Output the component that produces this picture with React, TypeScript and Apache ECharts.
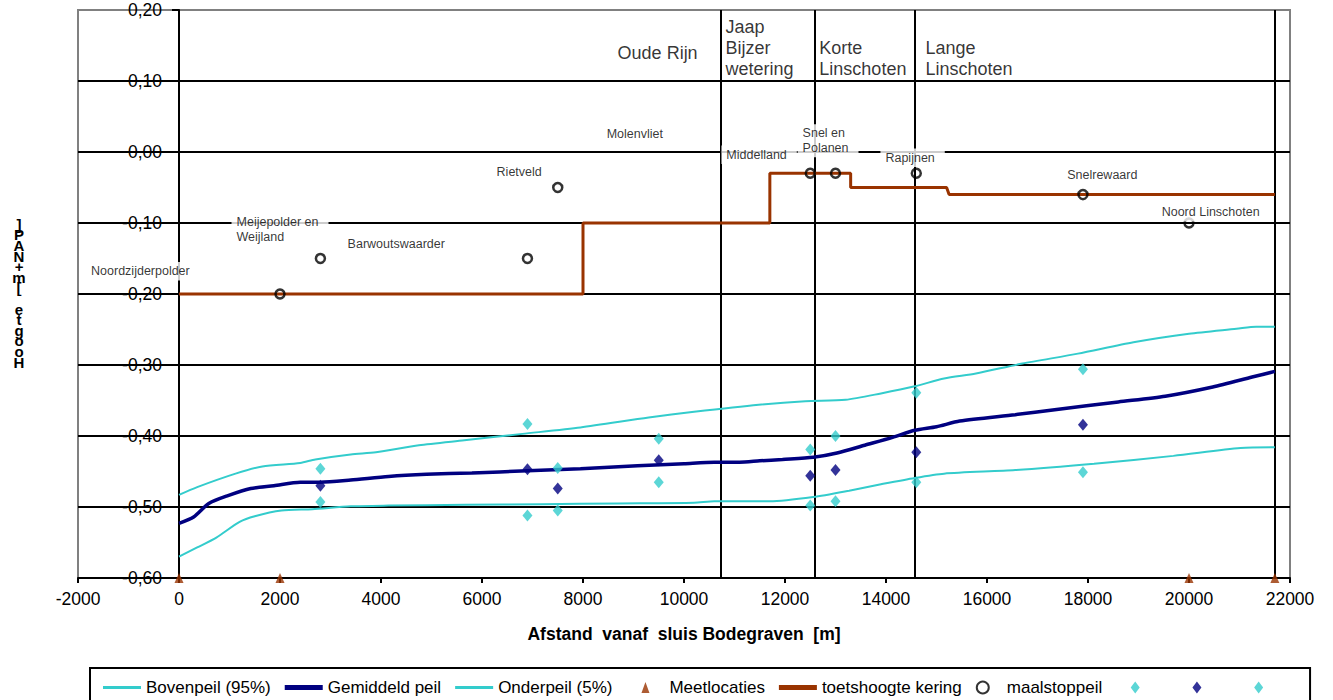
import React, { useEffect, useRef } from 'react';
import * as echarts from 'echarts';

const FONT = "'Liberation Sans', Arial, sans-serif";
const CYAN = '#33CCCC';
const NAVY = '#000080';
const BROWN = '#993300';

// Bovenpeil (95%)
const bovenX = [0, 360, 1120, 1650, 2400, 2700, 3400, 3900, 4750, 5650, 6800, 7950, 9300, 10200, 11480, 12400, 13200, 13900, 14570, 15150, 15780, 16700, 17800, 18900, 20000, 20940, 21330, 21700];
const bovenY = [-0.483, -0.472, -0.453, -0.443, -0.438, -0.433, -0.426, -0.423, -0.413, -0.406, -0.397, -0.388, -0.374, -0.366, -0.356, -0.351, -0.349, -0.340, -0.330, -0.319, -0.312, -0.298, -0.284, -0.268, -0.256, -0.249, -0.246, -0.246];

// Gemiddeld peil
const gemX = [0, 290, 590, 970, 1420, 1880, 2400, 2800, 3400, 4150, 4900, 5800, 6900, 7950, 9080, 10000, 10600, 11100, 11500, 11950, 12560, 13030, 13580, 14130, 14570, 15000, 15460, 16560, 17340, 18600, 19530, 20470, 21250, 21700];
const gemY = [-0.523, -0.514, -0.495, -0.484, -0.474, -0.470, -0.465, -0.465, -0.462, -0.457, -0.454, -0.452, -0.449, -0.446, -0.442, -0.439, -0.437, -0.437, -0.435, -0.433, -0.430, -0.424, -0.413, -0.402, -0.392, -0.387, -0.379, -0.370, -0.363, -0.352, -0.344, -0.331, -0.317, -0.309];

// Onderpeil (5%)
const ondX = [0, 360, 740, 1200, 1500, 2030, 2640, 3400, 4150, 5670, 7180, 8700, 10200, 10600, 11700, 12560, 13270, 13900, 14570, 15150, 16560, 18120, 19690, 21020, 21700];
const ondY = [-0.570, -0.557, -0.543, -0.521, -0.513, -0.505, -0.503, -0.499, -0.498, -0.497, -0.496, -0.495, -0.494, -0.492, -0.492, -0.486, -0.477, -0.468, -0.459, -0.453, -0.448, -0.439, -0.428, -0.417, -0.416];

// Meetlocaties
const meetX = [0, 2000, 20000, 21700];
const meetY = -0.6;

// toetshoogte kering
const toetsX = [0, 8000, 8000, 11700, 11700, 13300, 13300, 15200, 15250, 21700];
const toetsY = [-0.20, -0.20, -0.10, -0.10, -0.03, -0.03, -0.05, -0.05, -0.06, -0.06];

// maalstoppeil
const maalX = [2000, 2800, 6900, 7500, 12500, 13000, 14600, 17900, 20000];
const maalY = [-0.20, -0.15, -0.15, -0.05, -0.03, -0.03, -0.03, -0.06, -0.10];

// diamonds (meetpunten)
const diamX = [2800, 6900, 7500, 9500, 12500, 13000, 14600, 17900];
const diamUpper = [-0.446, -0.383, -0.445, -0.404, -0.419, -0.400, -0.339, -0.306];
const diamMid = [-0.470, -0.447, -0.474, -0.434, -0.456, -0.448, -0.423, -0.384];
const diamLower = [-0.493, -0.512, -0.505, -0.465, -0.498, -0.492, -0.465, -0.451];

// section boundaries and names
const sectionLineX = [10730, 12590, 14560, 21700];
const sectionNames = ['Oude Rijn', 'Jaap\nBijzer\nwetering', 'Korte\nLinschoten', 'Lange\nLinschoten'];
const sectionLabelX = [10280, 10810, 12670, 14770];
const sectionLabelY = [0.139, 0.147, 0.132, 0.132];

// polder names
const polderNames = ['Noordzijderpolder', 'Meijepolder en\nWeijland', 'Barwoutswaarder', 'Rietveld', 'Molenvliet', 'Middelland', 'Snel en\nPolanen', 'Rapijnen', 'Snelrewaard', 'Noord Linschoten'];
const polderLabelX = [-1850, 1030, 3230, 6180, 8360, 10730, 12240, 13880, 17480, 19350];
const polderLabelY = [-0.168, -0.109, -0.129, -0.028, 0.026, -0.004, 0.016, -0.008, -0.033, -0.085];

const xTitle = 'Afstand  vanaf  sluis Bodegraven  [m]';
const yTitle = 'Hoogte [m+NAP]';

const legendNames = ['Bovenpeil (95%)', 'Gemiddeld peil', 'Onderpeil (5%)', 'Meetlocaties', 'toetshoogte kering', 'maalstoppeil', ' ', '\u00a0', '\u2009'];

const ICON_TRI = 'path://M0 12h0.01M38 12h0.01M19 1L23 12H15z';
const ICON_DIA = 'path://M0 6h0.01M38 6h0.01M19 0L23.5 6L19 12L14.5 6z';

const zip = (xs: number[], ys: number[]) => xs.map((x, i) => [x, ys[i]]);

function buildOption(): any {
  return {
    animation: false,
    backgroundColor: '#fff',
    textStyle: { fontFamily: FONT },
    title: {
      text: yTitle.split('').reverse().join('\n'),
      left: 19, top: 219, padding: 0, textAlign: 'center',
      textStyle: { color: '#000', fontSize: 15, fontWeight: 'bold', fontFamily: FONT, lineHeight: 10.6 },
    },
    grid: {
      left: 78, top: 10, width: 1212, height: 568,
      show: true, borderColor: '#808080', borderWidth: 2, backgroundColor: '#fff',
      outerBoundsMode: 'none', containLabel: false,
    },
    xAxis: {
      type: 'value', min: -2000, max: 22000, interval: 2000,
      axisLine: { onZero: false, lineStyle: { color: '#000', width: 2 } },
      axisTick: { show: true, inside: false, length: 5, lineStyle: { color: '#000', width: 2 } },
      axisLabel: {
        color: '#000', fontSize: 17.5, margin: 12, fontFamily: FONT, showMinLabel: true, showMaxLabel: true,
        formatter: (v: number) => String(Math.round(v)),
      },
      splitLine: { show: false },
      name: xTitle, nameLocation: 'middle', nameGap: 47,
      nameTextStyle: { color: '#000', fontSize: 17.5, fontWeight: 'bold', fontFamily: FONT },
    },
    yAxis: {
      type: 'value', min: -0.6, max: 0.2, interval: 0.1,
      offset: -101,
      axisLine: { show: true, onZero: false, lineStyle: { color: '#000', width: 2 } },
      axisTick: { show: true, inside: false, length: 7, lineStyle: { color: '#000', width: 2 } },
      axisLabel: {
        color: '#000', fontSize: 17.5, margin: 17, fontFamily: FONT,
        formatter: (v: number) => (Math.abs(v) < 1e-9 ? '0,00' : v.toFixed(2).replace('.', ',')),
      },
      splitLine: {
        show: true,
        lineStyle: { color: ['#000', '#000', '#000', '#000', '#000', '#000', '#000', '#000', '#808080'], width: 2 },
      },
    },
    legend: {
      left: 90, top: 668, orient: 'horizontal', width: 1236,
      itemWidth: 38, itemHeight: 12, itemGap: 14,
      symbolKeepAspect: true,
      padding: [11, 24, 11, 13],
      borderColor: '#000', borderWidth: 2, backgroundColor: '#fff',
      textStyle: { fontSize: 17, color: '#000', fontFamily: FONT },
      data: [
        { name: legendNames[0], icon: 'path://M0 0h38v3H0z' },
        { name: legendNames[1], icon: 'path://M0 0h38v5H0z' },
        { name: legendNames[2], icon: 'path://M0 0h38v3H0z' },
        { name: legendNames[3], icon: ICON_TRI },
        { name: legendNames[4], icon: 'path://M0 0h38v5H0z' },
        { name: legendNames[5], icon: 'circle' },
        { name: legendNames[6], icon: ICON_DIA },
        { name: legendNames[7], icon: ICON_DIA },
        { name: legendNames[8], icon: ICON_DIA },
      ],
    },
    series: [
      {
        type: 'line', data: [], silent: true, z: 2,
        markLine: {
          silent: true, symbol: ['none', 'none'], z: 2,
          label: { show: false },
          lineStyle: { color: '#000', width: 2, type: 'solid' },
          emphasis: { disabled: true },
          data: sectionLineX.map((x) => ({ xAxis: x })),
        },
      },
      {
        name: legendNames[0], type: 'line', data: zip(bovenX, bovenY), symbol: 'none', z: 3, smooth: 0.25,
        lineStyle: { color: CYAN, width: 2 }, itemStyle: { color: CYAN },
      },
      {
        name: legendNames[1], type: 'line', data: zip(gemX, gemY), symbol: 'none', z: 3, smooth: 0.25,
        lineStyle: { color: NAVY, width: 3.5 }, itemStyle: { color: NAVY },
      },
      {
        name: legendNames[2], type: 'line', data: zip(ondX, ondY), symbol: 'none', z: 3, smooth: 0.25,
        lineStyle: { color: CYAN, width: 2 }, itemStyle: { color: CYAN },
      },
      {
        name: legendNames[3], type: 'scatter', data: meetX.map((x) => [x, meetY]), clip: false, z: 6,
        symbol: 'triangle', symbolSize: [9, 10], itemStyle: { color: BROWN },
      },
      {
        name: legendNames[4], type: 'line', data: zip(toetsX, toetsY), symbol: 'none', z: 4,
        lineStyle: { color: BROWN, width: 3 }, itemStyle: { color: BROWN },
      },
      {
        name: legendNames[5], type: 'scatter', data: zip(maalX, maalY), z: 7,
        symbol: 'circle', symbolSize: 9,
        itemStyle: { color: 'rgba(255,255,255,0)', borderColor: '#000', borderWidth: 2.5 },
      },
      {
        name: legendNames[6], type: 'scatter', data: zip(diamX, diamUpper), z: 8,
        symbol: 'diamond', symbolSize: [10, 12], itemStyle: { color: CYAN },
      },
      {
        name: legendNames[7], type: 'scatter', data: zip(diamX, diamMid), z: 8,
        symbol: 'diamond', symbolSize: [10, 12], itemStyle: { color: NAVY },
      },
      {
        name: legendNames[8], type: 'scatter', data: zip(diamX, diamLower), z: 8,
        symbol: 'diamond', symbolSize: [10, 12], itemStyle: { color: CYAN },
      },
      {
        type: 'scatter', silent: true, z: 10, clip: false,
        symbolSize: 1, itemStyle: { color: 'rgba(0,0,0,0)' },
        data: polderNames.map((n, i) => ({ value: [polderLabelX[i], polderLabelY[i]], name: n })),
        label: {
          show: true, position: 'right', distance: 0, formatter: (p: any) => p.name,
          color: '#000', fontSize: 12.5, lineHeight: 14.5, fontFamily: FONT,
          backgroundColor: '#fff', padding: [2, 10, 2, 5],
        },
      },
      {
        type: 'scatter', silent: true, z: 10, clip: false,
        symbolSize: 1, itemStyle: { color: 'rgba(0,0,0,0)' },
        data: sectionNames.map((n, i) => ({
          value: [sectionLabelX[i], sectionLabelY[i]], name: n,
          label: { position: i === 0 ? 'left' : 'right' },
        })),
        label: {
          show: true, position: 'right', distance: 0, formatter: (p: any) => p.name,
          color: '#000', fontSize: 18, lineHeight: 21, fontFamily: FONT,
        },
      },
    ],
  };
}

export default function App() {
  const ref = useRef<HTMLDivElement>(null);
  useEffect(() => {
    if (!ref.current) return;
    const chart = echarts.init(ref.current, null, { renderer: 'svg' });
    chart.setOption(buildOption());
    return () => chart.dispose();
  }, []);
  return (
    <div
      ref={ref}
      style={{ position: 'absolute', left: 0, top: 0, width: 1333, height: 700, background: '#fff' }}
    />
  );
}
